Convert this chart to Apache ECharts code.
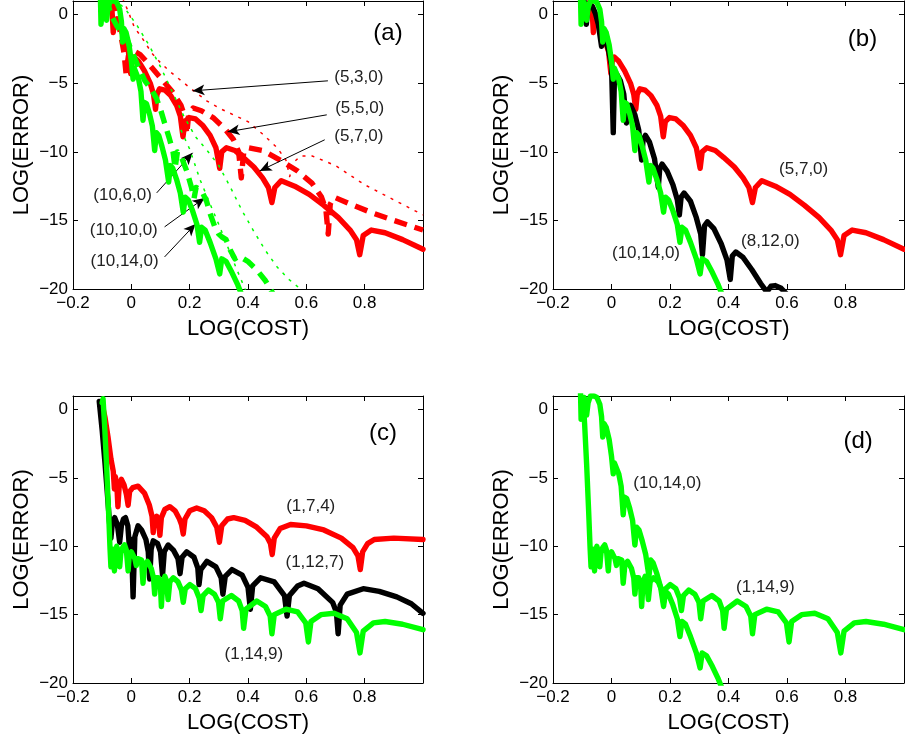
<!DOCTYPE html>
<html>
<head>
<meta charset="utf-8">
<script src="https://cdn.jsdelivr.net/npm/echarts@6/dist/echarts.min.js"></script>
<style>
html,body{margin:0;padding:0;background:#fff;}
#chart{width:905px;height:749px;}
</style>
</head>
<body>
<div id="chart"></div>
<script>
// ---------------- DATA (LOG(COST), LOG(ERROR)) ----------------
const xTicks = [-0.2, 0, 0.2, 0.4, 0.6, 0.8];
const yTicks = [-20, -15, -10, -5, 0];

// (5,7,0) red solid — panels (a),(b)
const red_5_7_0 = [[-0.075,1.2],[-0.066,0.2],[-0.062,-1.3],[-0.058,-0.4],[-0.05,-0.3],[-0.04,-0.8],[-0.025,-1.7],[-0.01,-2.7],[-0.002,-4.3],[0.003,-3.3],[0.01,-3.1],[0.025,-3.4],[0.045,-4.1],[0.065,-5.0],[0.076,-5.8],[0.083,-6.9],[0.088,-5.8],[0.097,-5.4],[0.115,-5.5],[0.135,-5.9],[0.155,-6.6],[0.168,-7.4],[0.177,-8.9],[0.184,-7.8],[0.198,-7.5],[0.22,-7.6],[0.246,-8.1],[0.27,-8.8],[0.29,-9.7],[0.303,-11.2],[0.31,-10.0],[0.326,-9.7],[0.355,-9.9],[0.383,-10.4],[0.42,-11.1],[0.45,-11.9],[0.47,-12.6],[0.482,-13.7],[0.492,-12.6],[0.514,-12.1],[0.56,-12.5],[0.61,-13.1],[0.66,-13.9],[0.71,-14.8],[0.75,-15.7],[0.772,-16.4],[0.783,-17.5],[0.795,-16.1],[0.823,-15.7],[0.87,-15.9],[0.93,-16.4],[1.0,-17.1]];
// (5,5,0) red dashed — panel (a)
const red_5_5_0 = [[-0.06,1.2],[-0.045,-0.5],[-0.035,-1.6],[-0.025,-2.8],[-0.018,-4.3],[-0.01,-3.0],[0.005,-2.6],[0.03,-2.9],[0.06,-3.6],[0.1,-4.6],[0.14,-5.6],[0.17,-6.6],[0.183,-7.4],[0.19,-8.7],[0.197,-7.2],[0.212,-6.8],[0.24,-7.0],[0.28,-7.5],[0.32,-8.3],[0.35,-9.1],[0.368,-10.0],[0.377,-11.9],[0.385,-10.1],[0.4,-9.7],[0.45,-9.9],[0.51,-10.6],[0.57,-11.4],[0.62,-12.3],[0.652,-13.3],[0.667,-14.2],[0.675,-16.0],[0.682,-13.8],[0.695,-13.3],[0.75,-13.8],[0.82,-14.4],[0.9,-15.0],[1.0,-15.7]];
// (5,3,0) red dotted — panel (a)
const red_5_3_0 = [[-0.03,1.2],[-0.01,0.2],[0.01,-0.9],[0.04,-1.8],[0.07,-2.8],[0.1,-3.5],[0.13,-4.1],[0.17,-4.8],[0.217,-5.6],[0.26,-6.3],[0.3,-6.8],[0.35,-7.3],[0.4,-7.8],[0.45,-8.7],[0.5,-9.7],[0.53,-10.6],[0.543,-11.8],[0.555,-10.8],[0.58,-10.3],[0.62,-10.3],[0.7,-11.0],[0.8,-12.4],[0.9,-13.5],[1.0,-14.6]];
// (10,14,0) green solid — panels (a),(b),(d)
const green_10_14_0 = [[-0.106,1.3],[-0.104,-0.7],[-0.1,0.3],[-0.094,0.9],[-0.088,0.6],[-0.085,-0.4],[-0.08,0.5],[-0.072,1.0],[-0.06,1.0],[-0.05,0.9],[-0.04,0.4],[-0.034,-0.5],[-0.03,-2.0],[-0.026,-1.0],[-0.018,-1.3],[-0.008,-2.2],[0.0,-3.4],[0.006,-4.7],[0.01,-3.9],[0.016,-4.0],[0.025,-4.7],[0.033,-5.6],[0.04,-7.7],[0.045,-6.4],[0.052,-6.5],[0.062,-7.2],[0.072,-8.1],[0.08,-9.9],[0.086,-8.6],[0.094,-8.8],[0.105,-9.6],[0.117,-10.6],[0.128,-12.2],[0.134,-11.0],[0.142,-11.2],[0.155,-12.0],[0.168,-13.0],[0.178,-14.4],[0.185,-13.3],[0.195,-13.5],[0.21,-14.3],[0.225,-15.3],[0.234,-16.6],[0.241,-15.5],[0.253,-15.7],[0.27,-16.6],[0.29,-17.8],[0.303,-18.9],[0.31,-17.8],[0.325,-18.0],[0.345,-18.8],[0.365,-19.7],[0.38,-20.5]];
// (10,10,0) green dashed — panel (a)
const green_10_10_0 = [[-0.085,1.2],[-0.07,0.0],[-0.05,-0.8],[-0.03,-1.4],[-0.013,-1.9],[0.0,-2.6],[0.02,-3.6],[0.046,-4.8],[0.07,-5.5],[0.086,-6.1],[0.1,-6.9],[0.114,-7.9],[0.13,-9.0],[0.143,-10.0],[0.15,-11.2],[0.158,-10.0],[0.172,-10.4],[0.19,-11.4],[0.205,-12.5],[0.215,-13.4],[0.222,-12.6],[0.24,-12.8],[0.258,-13.6],[0.27,-14.5],[0.285,-15.4],[0.3,-16.0],[0.31,-16.2],[0.325,-16.4],[0.34,-17.2],[0.355,-17.8],[0.37,-17.6],[0.4,-18.0],[0.43,-18.6],[0.46,-19.4],[0.49,-20.5]];
// (10,6,0) green dotted — panel (a), two visible branches
const green_10_6_0_upper = [[-0.06,1.2],[-0.02,0.4],[0.02,-0.8],[0.06,-2.2],[0.1,-3.8],[0.14,-5.6],[0.18,-7.4],[0.22,-8.9],[0.26,-9.9],[0.3,-11.0],[0.34,-12.6],[0.38,-14.3],[0.42,-15.8],[0.46,-17.2],[0.5,-18.4],[0.54,-19.3],[0.58,-20.0],[0.62,-20.6]];
const green_10_6_0_lower = [[0.17,-8.4],[0.2,-9.8],[0.235,-12.0],[0.27,-13.8],[0.3,-15.3],[0.33,-16.9],[0.36,-18.5],[0.39,-20.0],[0.41,-20.8]];
// (8,12,0) black — panel (b)
const black_8_12_0 = [[-0.095,1.2],[-0.09,0.4],[-0.086,-0.7],[-0.082,0.3],[-0.075,0.7],[-0.065,0.6],[-0.055,0.1],[-0.045,-0.7],[-0.034,-2.3],[-0.028,-1.6],[-0.02,-1.8],[-0.01,-2.6],[0.0,-3.7],[0.006,-8.6],[0.01,-4.6],[0.017,-4.3],[0.03,-4.8],[0.042,-5.8],[0.051,-7.9],[0.056,-6.7],[0.065,-6.6],[0.08,-7.3],[0.093,-8.4],[0.103,-10.6],[0.108,-9.1],[0.116,-8.8],[0.13,-9.3],[0.147,-10.5],[0.16,-12.6],[0.165,-11.2],[0.173,-10.9],[0.19,-11.4],[0.21,-12.4],[0.225,-13.5],[0.232,-14.6],[0.238,-13.3],[0.248,-13.0],[0.27,-13.6],[0.29,-14.8],[0.305,-16.0],[0.311,-17.5],[0.318,-15.4],[0.328,-15.1],[0.35,-15.6],[0.375,-16.7],[0.395,-17.9],[0.406,-19.3],[0.413,-17.6],[0.425,-17.3],[0.45,-17.7],[0.48,-18.6],[0.51,-19.6],[0.527,-20.1],[0.535,-20.1],[0.545,-19.8],[0.56,-19.75],[0.58,-19.95],[0.6,-20.4]];
// (1,7,4) red — panel (c)
const red_1_7_4 = [[-0.102,0.6],[-0.09,-0.6],[-0.08,-2.0],[-0.07,-3.6],[-0.062,-4.5],[-0.058,-5.8],[-0.055,-4.9],[-0.05,-5.4],[-0.046,-7.1],[-0.042,-5.7],[-0.034,-5.1],[-0.025,-5.5],[-0.017,-6.2],[-0.011,-7.0],[-0.006,-6.0],[0.005,-5.7],[0.023,-5.6],[0.045,-6.1],[0.062,-7.0],[0.071,-7.8],[0.075,-9.0],[0.079,-8.0],[0.087,-7.8],[0.093,-8.2],[0.098,-9.2],[0.103,-7.9],[0.115,-7.3],[0.132,-7.1],[0.15,-7.4],[0.165,-8.0],[0.172,-8.4],[0.178,-9.1],[0.184,-8.0],[0.2,-7.4],[0.224,-7.2],[0.25,-7.4],[0.275,-7.9],[0.293,-8.6],[0.302,-9.7],[0.31,-8.5],[0.33,-8.0],[0.351,-7.9],[0.39,-8.1],[0.43,-8.6],[0.465,-9.3],[0.477,-9.8],[0.483,-10.6],[0.49,-9.4],[0.51,-8.7],[0.546,-8.4],[0.6,-8.5],[0.66,-8.8],[0.72,-9.4],[0.76,-10.1],[0.777,-10.7],[0.785,-11.7],[0.793,-10.4],[0.81,-9.8],[0.833,-9.5],[0.9,-9.4],[1.0,-9.5]];
// (1,12,7) black — panel (c)
const black_1_12_7 = [[-0.11,0.6],[-0.1,-1.5],[-0.09,-4.0],[-0.082,-6.2],[-0.075,-8.2],[-0.07,-9.4],[-0.065,-8.3],[-0.057,-7.9],[-0.048,-8.4],[-0.04,-9.7],[-0.034,-8.5],[-0.027,-8.0],[-0.02,-7.9],[-0.012,-8.5],[-0.006,-10.3],[0.0,-9.5],[0.006,-13.7],[0.012,-9.3],[0.023,-8.5],[0.035,-8.8],[0.05,-9.5],[0.058,-10.4],[0.063,-12.4],[0.068,-10.2],[0.075,-9.6],[0.09,-9.8],[0.1,-10.4],[0.107,-12.1],[0.113,-10.4],[0.126,-9.9],[0.145,-10.3],[0.16,-10.9],[0.167,-12.0],[0.174,-10.8],[0.19,-10.4],[0.215,-10.8],[0.228,-11.6],[0.232,-12.8],[0.238,-11.7],[0.259,-11.1],[0.29,-11.5],[0.308,-12.3],[0.314,-13.5],[0.322,-12.2],[0.345,-11.7],[0.38,-12.1],[0.4,-13.0],[0.408,-14.6],[0.416,-12.9],[0.443,-12.3],[0.49,-12.6],[0.525,-13.6],[0.534,-15.1],[0.542,-13.6],[0.57,-12.9],[0.592,-12.7],[0.64,-13.1],[0.69,-14.1],[0.703,-14.8],[0.709,-16.4],[0.716,-14.3],[0.74,-13.5],[0.795,-13.1],[0.85,-13.3],[0.91,-13.7],[0.96,-14.2],[1.0,-14.9]];
// (1,14,9) green — panels (c),(d)
const green_1_14_9 = [[-0.1,0.5],[-0.097,0.8],[-0.092,-1.0],[-0.085,-4.0],[-0.078,-7.5],[-0.073,-10.2],[-0.07,-11.5],[-0.066,-10.2],[-0.062,-10.5],[-0.058,-11.8],[-0.054,-10.3],[-0.05,-10.0],[-0.045,-10.4],[-0.04,-11.5],[-0.036,-10.5],[-0.03,-10.1],[-0.023,-9.9],[-0.017,-10.3],[-0.011,-11.8],[-0.007,-10.6],[0.0,-10.4],[0.006,-10.5],[0.012,-10.9],[0.017,-11.4],[0.022,-10.9],[0.035,-11.0],[0.04,-12.7],[0.046,-11.3],[0.055,-11.1],[0.068,-11.6],[0.076,-12.3],[0.08,-13.5],[0.085,-12.3],[0.093,-12.3],[0.1,-13.0],[0.103,-14.4],[0.108,-12.6],[0.115,-12.2],[0.12,-12.5],[0.126,-13.9],[0.132,-12.6],[0.144,-12.3],[0.16,-12.6],[0.172,-13.2],[0.178,-14.1],[0.185,-13.1],[0.201,-12.8],[0.22,-13.1],[0.233,-13.8],[0.239,-14.7],[0.246,-13.6],[0.264,-13.2],[0.285,-13.5],[0.299,-14.1],[0.305,-15.3],[0.313,-14.0],[0.343,-13.6],[0.368,-14.0],[0.38,-14.7],[0.385,-16.0],[0.393,-14.6],[0.43,-14.0],[0.46,-14.4],[0.476,-15.1],[0.482,-16.4],[0.49,-15.0],[0.53,-14.6],[0.57,-14.8],[0.598,-15.6],[0.607,-17.0],[0.616,-15.5],[0.65,-15.0],[0.695,-14.9],[0.74,-15.3],[0.772,-16.3],[0.784,-17.8],[0.795,-16.2],[0.83,-15.6],[0.87,-15.5],[0.93,-15.7],[1.0,-16.1]];

// ---------------- TEXT ----------------
const panelNames = ['(a)', '(b)', '(c)', '(d)'];
const xName = 'LOG(COST)';
const yName = 'LOG(ERROR)';

// ---------------- LAYOUT / STYLE ----------------
const FONT = '"Liberation Sans", Arial, Helvetica, sans-serif';
const RED = '#ff0000', GREEN = '#00ff00', BLACK = '#000000';
const grids = [
  {left: 73, top: 1, width: 350, height: 288},
  {left: 553, top: 1, width: 351, height: 288},
  {left: 73, top: 396, width: 350, height: 287},
  {left: 553, top: 396, width: 351, height: 287}
];
const minus = s => String(s).replace('-', '\u2212');
function xFmt(v) {
  const r = Math.round(v * 10) / 10;
  if (!xTicks.some(t => Math.abs(t - r) < 1e-9) || Math.abs(v - r) > 1e-6) return '';
  return minus(r === 0 ? '0' : r.toFixed(1));
}
function yFmt(v) {
  if (!yTicks.some(t => Math.abs(t - v) < 1e-9)) return '';
  return minus(Math.round(v));
}
const tickStyle = {show: true, inside: true, length: 5, lineStyle: {color: '#000', width: 1}};
const lineStyleAxis = {show: true, onZero: false, lineStyle: {color: '#000', width: 1}};

const xAxes = [], yAxes = [];
grids.forEach((g, i) => {
  xAxes.push({
    type: 'value', gridIndex: i, position: 'bottom', min: -0.2, max: 1.0, interval: 0.2,
    axisLine: lineStyleAxis, axisTick: tickStyle, splitLine: {show: false},
    axisLabel: {show: true, formatter: xFmt, margin: 6, color: '#000', fontSize: 17, fontFamily: FONT, showMaxLabel: false},
    name: xName, nameLocation: 'middle', nameGap: 29,
    nameTextStyle: {fontSize: 22, color: '#000', fontFamily: FONT}
  });
  xAxes.push({
    type: 'value', gridIndex: i, position: 'top', min: -0.2, max: 1.0, interval: 0.2,
    axisLine: lineStyleAxis, axisTick: tickStyle, splitLine: {show: false}, axisLabel: {show: false}
  });
  yAxes.push({
    type: 'value', gridIndex: i, position: 'left', min: -20, max: 1, interval: 5,
    axisLine: lineStyleAxis, axisTick: tickStyle, splitLine: {show: false},
    axisLabel: {show: true, formatter: yFmt, margin: 5, color: '#000', fontSize: 17, fontFamily: FONT},
    name: yName, nameLocation: 'middle', nameGap: 40, nameRotate: 90,
    nameTextStyle: {fontSize: 22, color: '#000', fontFamily: FONT}
  });
  yAxes.push({
    type: 'value', gridIndex: i, position: 'right', min: -20, max: 1, interval: 5,
    axisLine: lineStyleAxis, axisTick: tickStyle, splitLine: {show: false}, axisLabel: {show: false}
  });
});

function curve(name, data, panel, color, kind, z) {
  let ls;
  if (kind === 'solid') ls = {color, width: 5.4, type: 'solid', cap: 'round', join: 'round'};
  else if (kind === 'dashed') ls = {color, width: 5.4, type: [13, 8], cap: 'butt', join: 'round'};
  else ls = {color, width: 1.5, type: [3, 6], cap: 'butt', join: 'round'};
  return {
    type: 'line', name, data, xAxisIndex: panel * 2, yAxisIndex: panel * 2,
    showSymbol: false, symbol: 'none', smooth: false, clip: true, z: z || 2,
    lineStyle: ls, emphasis: {disabled: true}, silent: true, animation: false
  };
}

// annotation text placed in data coordinates of each panel
const annotations = [
  {panel: 0, at: [0.78, -4.53], text: '(5,3,0)'},
  {panel: 0, at: [0.783, -6.79], text: '(5,5,0)'},
  {panel: 0, at: [0.78, -8.9], text: '(5,7,0)'},
  {panel: 0, at: [-0.03, -13.2], text: '(10,6,0)'},
  {panel: 0, at: [-0.026, -15.7], text: '(10,10,0)'},
  {panel: 0, at: [-0.023, -18.0], text: '(10,14,0)'},
  {panel: 1, at: [0.657, -11.3], text: '(5,7,0)'},
  {panel: 1, at: [0.543, -16.5], text: '(8,12,0)'},
  {panel: 1, at: [0.118, -17.4], text: '(10,14,0)'},
  {panel: 2, at: [0.615, -7.07], text: '(1,7,4)'},
  {panel: 2, at: [0.629, -11.2], text: '(1,12,7)'},
  {panel: 2, at: [0.42, -17.9], text: '(1,14,9)'},
  {panel: 3, at: [0.191, -5.41], text: '(10,14,0)'},
  {panel: 3, at: [0.526, -12.97], text: '(1,14,9)'}
];
const panelTags = [[0.88, -1.39], [0.858, -1.82], [0.863, -1.7], [0.843, -2.3]];
// arrows of panel (a): [from, to] in data coordinates
const arrowsA = [
  [[0.674, -4.82], [0.21, -5.55]],
  [[0.670, -7.30], [0.33, -8.54]],
  [[0.663, -9.12], [0.44, -11.39]],
  [[0.087, -12.99], [0.21, -10.07]],
  [[0.114, -15.47], [0.251, -13.36]],
  [[0.114, -17.66], [0.22, -15.26]]
];

const series = [
  // panel (a)
  curve('(5,3,0)', red_5_3_0, 0, RED, 'dotted', 2),
  curve('(5,5,0)', red_5_5_0, 0, RED, 'dashed', 3),
  curve('(5,7,0)', red_5_7_0, 0, RED, 'solid', 4),
  curve('(10,6,0)', green_10_6_0_upper, 0, GREEN, 'dotted', 5),
  curve('(10,6,0) ', green_10_6_0_lower, 0, GREEN, 'dotted', 5),
  curve('(10,10,0)', green_10_10_0, 0, GREEN, 'dashed', 6),
  curve('(10,14,0)', green_10_14_0, 0, GREEN, 'solid', 7),
  // panel (b)
  curve('(5,7,0)', red_5_7_0, 1, RED, 'solid', 2),
  curve('(8,12,0)', black_8_12_0, 1, BLACK, 'solid', 3),
  curve('(10,14,0)', green_10_14_0, 1, GREEN, 'solid', 4),
  // panel (c)
  curve('(1,7,4)', red_1_7_4, 2, RED, 'solid', 2),
  curve('(1,12,7)', black_1_12_7, 2, BLACK, 'solid', 3),
  curve('(1,14,9)', green_1_14_9, 2, GREEN, 'solid', 4),
  // panel (d)
  curve('(10,14,0)', green_10_14_0, 3, GREEN, 'solid', 2),
  curve('(1,14,9)', green_1_14_9, 3, GREEN, 'solid', 3)
];

for (let p = 0; p < 4; p++) {
  const items = annotations.filter(a => a.panel === p).map(a => ({
    value: a.at, label: {formatter: a.text, fontSize: 17, color: '#222'}
  }));
  items.push({value: panelTags[p], label: {formatter: panelNames[p], fontSize: 24, color: '#000'}});
  const s = {
    type: 'scatter', xAxisIndex: p * 2, yAxisIndex: p * 2, symbolSize: 0, z: 20, silent: true,
    data: items, animation: false, itemStyle: {opacity: 1},
    label: {show: true, position: 'inside', fontFamily: FONT, opacity: 1}
  };
  if (p === 0) {
    s.markLine = {
      silent: true, animation: false, symbol: ['none', 'arrow'], symbolSize: [8, 12],
      label: {show: false}, lineStyle: {color: '#000', width: 1, type: 'solid', opacity: 1},
      emphasis: {disabled: true},
      data: arrowsA.map(a => [{coord: a[0]}, {coord: a[1]}])
    };
  }
  series.push(s);
}

const chart = echarts.init(document.getElementById('chart'), null, {renderer: 'canvas'});
chart.setOption({
  animation: false,
  backgroundColor: '#ffffff',
  grid: grids,
  xAxis: xAxes,
  yAxis: yAxes,
  series
});
</script>
</body>
</html>
